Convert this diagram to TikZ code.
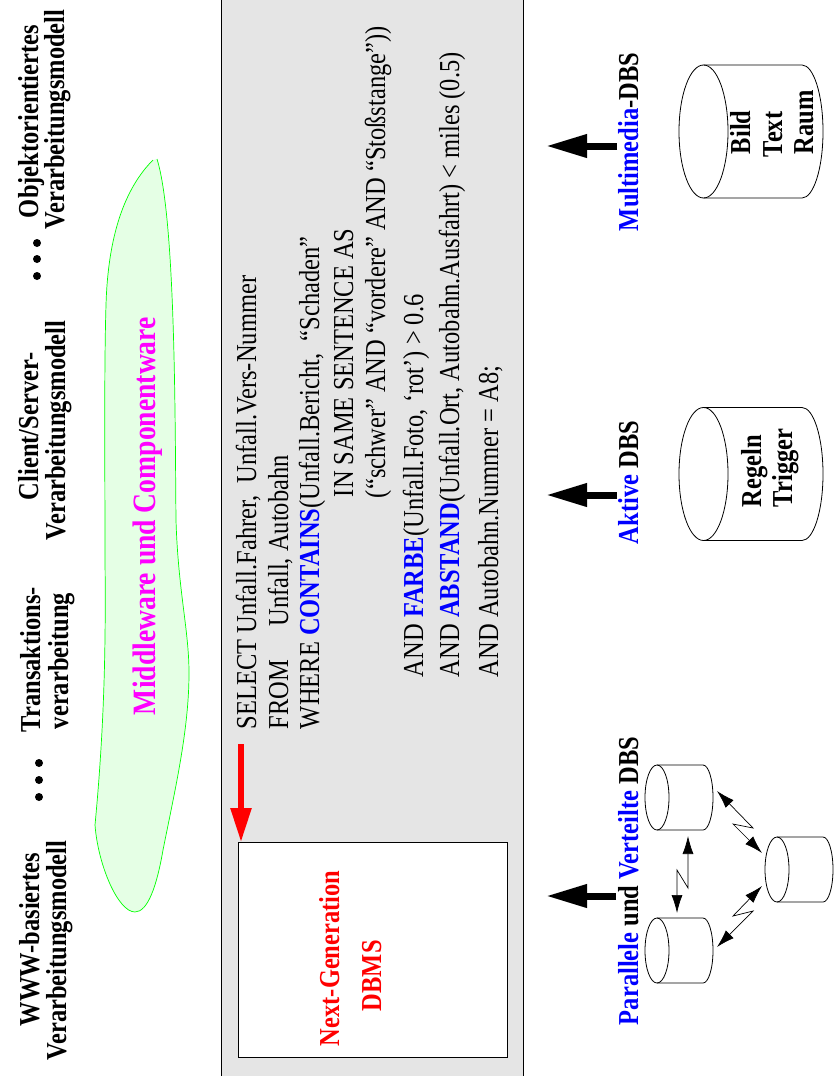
\documentclass[tikz,border=0pt]{standalone}
\usepackage{fontspec}
\setmainfont[FakeStretch=0.847]{Liberation Serif}
\usetikzlibrary{arrows.meta}
\definecolor{panelgray}{HTML}{E5E5E5}
\definecolor{blobfill}{HTML}{E5FFE5}
\definecolor{pureblue}{HTML}{0000FF}
\definecolor{puremagenta}{HTML}{FF00FF}
\definecolor{purered}{HTML}{FF0000}
\definecolor{puregreen}{HTML}{00FF00}
\tikzset{
  txt/.style={rotate=90,anchor=base west,inner sep=0pt,outer sep=0pt,font=\fontsize{28.9}{32}\selectfont},
  btxt/.style={txt,font=\fontsize{28.9}{32}\selectfont\bfseries},
  cyl/.style={draw=black,line width=0.8pt},
  spark/.style={draw=black,line width=0.7pt,{Latex[length=18pt,width=11pt]}-{Latex[length=18pt,width=11pt]}},
  bigarrow/.style={draw=black,line width=7pt,-{Triangle[length=41pt,width=22pt]}},
  redarrow/.style={draw=purered,line width=5.5pt,-{Triangle[length=34pt,width=20pt,color=purered]}},
  dotmark/.style={circle,fill=black,inner sep=0pt,minimum size=8pt},
}
\newcommand{\bl}[1]{\textcolor{pureblue}{\textbf{#1}}}
\begin{document}
\begin{tikzpicture}[x=1pt,y=-1pt]
\useasboundingbox (0,0) rectangle (836,1076);
% panel
\fill[panelgray] (221.5,0) rectangle (523.5,1076);
\draw[line width=1.3pt] (221.5,0) -- (221.5,1076);
\draw[line width=1.3pt] (523.5,0) -- (523.5,1076);
% blob
\draw[puregreen,fill=blobfill,line width=0.7pt]
 (153,160) .. controls (125,188) and (108,235) .. (106,305)
 .. controls (104,370) and (105,470) .. (105,560)
 .. controls (106,650) and (104,730) .. (95,825)
 .. controls (98,865) and (118,912) .. (135,912)
 .. controls (148,912) and (157,885) .. (163,850)
 .. controls (175,790) and (189,730) .. (189,673)
 .. controls (189,630) and (178,590) .. (176,520)
 .. controls (175,430) and (176,220) .. (157,159);
% top labels
\node[btxt] (w1) at (39,1026) {WWW-basiertes};
\node[btxt] (w2) at (66,1060) {Verarbeitungsmodell};
\node[btxt] (t1) at (40,732) {Transaktions-};
\node[btxt] (t2) at (68,729) {verarbeitung};
\node[btxt] (c1) at (38,500) {Client/Server-};
\node[btxt] (c2) at (65,540) {Verarbeitungsmodell};
\node[btxt] (o1) at (38,218) {Objektorientiertes};
\node[btxt] (o2) at (64,229) {Verarbeitungsmodell};
\node[dotmark] (d1) at (39,763) {};
\node[dotmark] (d2) at (39,780) {};
\node[dotmark] (d3) at (39,797) {};
\node[dotmark] (d4) at (37,243) {};
\node[dotmark] (d5) at (37,259) {};
\node[dotmark] (d6) at (37,276) {};
\node[btxt,text=puremagenta,font=\fontsize{32.6}{36}\selectfont\bfseries] (mw) at (155,715) {Middleware und Componentware};
% SQL
\node[txt] (s1) at (256,729) {SELECT Unfall.Fahrer,\ \ Unfall.Vers-Nummer};
\node[txt] (s2) at (288,729) {FROM\hspace{33pt}Unfall, Autobahn};
\node[txt] (s3) at (319,729) {WHERE \bl{CONTAINS}(Unfall.Bericht,\ \ “Schaden”};
\node[txt] (s4) at (353,497) {IN SAME SENTENCE AS};
\node[txt] (s5) at (385,498) {(“schwer” AND “vordere” AND “Stoßstange”))};
\node[txt] (s6) at (423,677) {AND \bl{FARBE}(Unfall.Foto,\ ‘rot’) > 0.6};
\node[txt] (s7) at (459,677) {AND \bl{ABSTAND}(Unfall.Ort, Autobahn.Ausfahrt) < miles (0.5)};
\node[txt] (s8) at (498,677) {AND Autobahn.Nummer = A8;};
% Next-generation box
\node[draw=black,fill=white,line width=1.2pt,minimum width=269.5pt,minimum height=215pt,inner sep=0pt,anchor=north west] (box) at (237.5,842) {};
\coordinate (redstart) at (241,744);
\coordinate (redend) at (241,842);
\draw[redarrow] (redstart) -- (redend);
\node[btxt,text=purered] (ng1) at (339,1046) {Next-Generation};
\node[btxt,text=purered] (ng2) at (381,1011) {DBMS};
% bottom labels
\node[btxt] (l1) at (638,231) {\textcolor{pureblue}{Multimedia}-DBS};
\node[btxt] (l2) at (638,544) {\textcolor{pureblue}{Aktive} DBS};
\node[btxt] (l3) at (638,1025) {\textcolor{pureblue}{Parallele} und \textcolor{pureblue}{Verteilte} DBS};
\coordinate (a1s) at (617,146); \coordinate (a1e) at (546,146);
\coordinate (a2s) at (617,495); \coordinate (a2e) at (546,495);
\coordinate (a3s) at (616,896); \coordinate (a3e) at (546,896);
\draw[bigarrow] (a1s) -- (a1e);
\draw[bigarrow] (a2s) -- (a2e);
\draw[bigarrow] (a3s) -- (a3e);
% cylinders
\draw[cyl] (703.5,131.5) ellipse [x radius=24.5,y radius=66.5];
\draw[cyl] (703.5,65) -- (802,65) arc[start angle=-90,end angle=90,x radius=21,y radius=66.5] -- (703.5,198);
\draw[cyl] (703.5,474) ellipse [x radius=24.5,y radius=66.5];
\draw[cyl] (703.5,407.5) -- (802,407.5) arc[start angle=-90,end angle=90,x radius=21,y radius=66.5] -- (703.5,540.5);
\draw[cyl] (657,797.5) ellipse [x radius=12,y radius=32.5];
\draw[cyl] (657,765) -- (703,765) arc[start angle=-90,end angle=90,x radius=10,y radius=32.5] -- (657,830);
\draw[cyl] (657,950.5) ellipse [x radius=12,y radius=32.5];
\draw[cyl] (657,918) -- (703,918) arc[start angle=-90,end angle=90,x radius=10,y radius=32.5] -- (657,983);
\draw[cyl] (777,869.5) ellipse [x radius=12,y radius=32.5];
\draw[cyl] (777,837) -- (823,837) arc[start angle=-90,end angle=90,x radius=10,y radius=32.5] -- (777,902);
\node[btxt] (b1) at (750,154) {Bild};
\node[btxt] (b2) at (782,157) {Text};
\node[btxt] (b3) at (813,154) {Raum};
\node[btxt] (r1) at (761,507) {Regeln};
\node[btxt] (r2) at (792,507) {Trigger};
% lightning connectors
\coordinate (p1) at (717,791); \coordinate (p1a) at (753,828); \coordinate (p1b) at (733,824); \coordinate (p1c) at (762,853);
\coordinate (p2) at (688,836); \coordinate (p2a) at (688,888); \coordinate (p2b) at (677,870); \coordinate (p2c) at (677,913);
\coordinate (p3) at (717,947); \coordinate (p3a) at (753,911); \coordinate (p3b) at (733,916); \coordinate (p3c) at (762,886);
\draw[spark] (p1) -- (p1a) -- (p1b) -- (p1c);
\draw[spark] (p2) -- (p2a) -- (p2b) -- (p2c);
\draw[spark] (p3) -- (p3a) -- (p3b) -- (p3c);
\end{tikzpicture}
\end{document}
